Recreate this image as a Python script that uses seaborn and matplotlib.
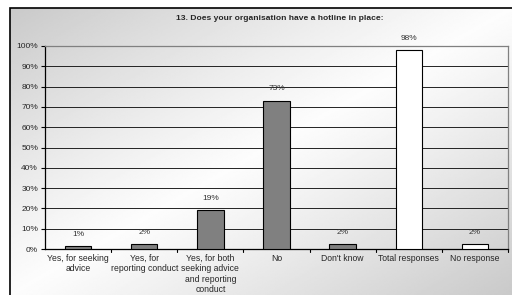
import numpy as np
import pandas as pd
import matplotlib
matplotlib.use("Agg")
import matplotlib.pyplot as plt
import seaborn as sns
from matplotlib.patches import Rectangle

categories = ["Yes, for seeking\nadvice", "Yes, for\nreporting conduct",
              "Yes, for both\nseeking advice\nand reporting\nconduct",
              "No", "Don't know", "Total responses", "No response"]
values = [1.4, 2.4, 19, 73, 2.4, 98, 2.4]
labels = ["1%", "2%", "19%", "73%", "2%", "98%", "2%"]
colors = ["#808080", "#808080", "#808080", "#808080", "#808080", "#ffffff", "#ffffff"]
title = "13. Does your organisation have a hotline in place:"

sns.set_theme(style="white")
plt.rcParams["font.family"] = ["Liberation Sans", "DejaVu Sans"]

W, H = 512, 295
fig = plt.figure(figsize=(W / 100, H / 100), dpi=100)
fig.patch.set_facecolor("white")

# gradient background inside chart frame
bg = fig.add_axes([10 / W, 0, 1 - 10 / W, 1 - 8 / H], zorder=0)
gx, gy = np.meshgrid(np.linspace(0, 1, 300), np.linspace(0, 1, 200))
t = (gx + gy) / 2
shade = 0.99 - 0.2 * (np.abs(t - 0.5) * 2) ** 1.1
bg.imshow(shade, cmap="gray", vmin=0, vmax=1, aspect="auto", extent=[0, 1, 1, 0])
bg.set_axis_off()
fig.add_artist(Rectangle((10 / W, -0.1), 1.2, 1 - 8 / H + 0.1, transform=fig.transFigure,
                         fill=False, edgecolor="black", linewidth=1.2, zorder=1))

ax = fig.add_axes([45 / W, (H - 249) / H, (508 - 45) / W, (249 - 46) / H], zorder=2)
ax.patch.set_alpha(0)

df = pd.DataFrame({"cat": categories, "val": values})
sns.barplot(data=df, x="cat", y="val", hue="cat", palette=colors, legend=False,
            width=0.4, edgecolor="black", linewidth=0.8, ax=ax, zorder=3)

for i, (v, lab) in enumerate(zip(values, labels)):
    ax.annotate(lab, (i, v), xytext=(0, 6), textcoords="offset points",
                ha="center", va="bottom", fontsize=6, color="#333333")

ax.set_ylim(0, 100)
ax.set_xlim(-0.5, len(categories) - 0.5)
ax.set_yticks(np.arange(0, 101, 10))
ax.set_yticklabels([f"{v}%" for v in range(0, 101, 10)], fontsize=6)
ax.yaxis.grid(True, color="#222222", linewidth=0.7)
ax.set_axisbelow(True)
ax.set_xlabel("")
ax.set_ylabel("")
ax.set_xticks(range(len(categories)))
ax.set_xticklabels(categories, fontsize=6.2, linespacing=1.2, va="top")
ax.tick_params(axis="x", length=0, pad=3.5)
ax.tick_params(axis="y", length=3, width=0.8, direction="out", left=True, pad=2, color="black")
for b in np.arange(0.5, len(categories) - 0.5 + 1, 1):
    ax.plot([b, b], [0, -1.5], color="black", linewidth=0.8, clip_on=False)
for s in ["left", "bottom"]:
    ax.spines[s].set_color("black")
    ax.spines[s].set_linewidth(0.9)
for s in ["right", "top"]:
    ax.spines[s].set_color("#808080")
    ax.spines[s].set_linewidth(0.9)

fig.text(280 / W, 1 - 19 / H, title, ha="center", va="center", fontsize=6.1, fontweight="bold")

fig.savefig("out.png", dpi=100)
